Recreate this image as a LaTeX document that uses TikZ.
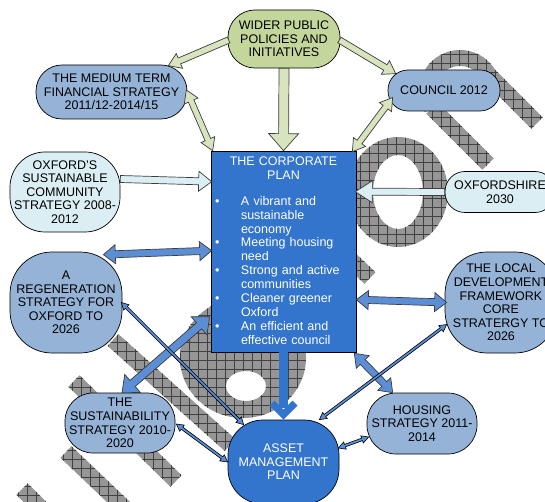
\documentclass[tikz,border=0pt]{standalone}
\usepackage{fontspec}
\setmainfont{Liberation Sans}
\usetikzlibrary{calc}
\definecolor{corpblue}{RGB}{51,116,204}
\definecolor{nodeblue}{RGB}{149,179,215}
\definecolor{lightcyan}{RGB}{218,238,243}
\definecolor{olivebox}{RGB}{195,214,155}
\definecolor{olivearrow}{RGB}{215,228,189}
\definecolor{arrowblue}{RGB}{92,142,213}
\definecolor{wmgray}{RGB}{150,150,150}
\definecolor{outline}{RGB}{60,60,60}

\newcommand{\wmfill}[1]{\begin{scope}[even odd rule]\clip #1; \fill[wmgray] (0,0) rectangle (545,502); \draw[black!75, line width=0.5pt, step=9pt] (0,502) grid (545,0);\end{scope}}
\newcommand{\wmbar}[2]{\wmfill{($#1!8pt!90:#2$) -- ($#2!8pt!-90:#1$) -- ($#2!8pt!90:#1$) -- ($#1!8pt!-90:#2$) -- cycle}}
\newcommand{\blkS}[6]{%
  \coordinate (hB) at ($(#3)!#6!(#2)$);
  \draw[#1] ($(#2)!#4!90:(#3)$) -- ($(hB)!#4!90:(#3)$) -- ($(hB)!#5!90:(#3)$) -- (#3) -- ($(hB)!#5!-90:(#3)$) -- ($(hB)!#4!-90:(#3)$) -- ($(#2)!#4!-90:(#3)$) -- cycle;}
\newcommand{\blkD}[6]{%
  \coordinate (hA) at ($(#2)!#6!(#3)$);
  \coordinate (hB) at ($(#3)!#6!(#2)$);
  \draw[#1] (#2) -- ($(hA)!#5!90:(#3)$) -- ($(hA)!#4!90:(#3)$) -- ($(hB)!#4!90:(#3)$) -- ($(hB)!#5!90:(#3)$) -- (#3) -- ($(hB)!#5!-90:(#3)$) -- ($(hB)!#4!-90:(#3)$) -- ($(hA)!#4!-90:(#3)$) -- ($(hA)!#5!-90:(#3)$) -- cycle;}
\newcommand{\cpitem}[1]{\par\noindent\hangindent=30pt\hangafter=1\makebox[30pt][l]{\hspace{4pt}\textbullet}#1\par}

\begin{document}
\begin{tikzpicture}[x=1pt,y=-1pt,
  box/.style={draw=black, line width=0.7pt, align=center, inner sep=0pt,
    font=\fontsize{12.5}{13.6}\selectfont},
  garrow/.style={draw=outline, line width=0.7pt, fill=olivearrow},
  carrow/.style={draw=outline, line width=0.7pt, fill=lightcyan},
  barrow/.style={draw=outline, line width=0.7pt, fill=arrowblue},
  tarrow/.style={draw=black, line width=0.6pt, fill=arrowblue}]
\useasboundingbox (0,0) rectangle (545,502);
\clip (0,0) rectangle (545,502);

% watermark
\wmfill{(398,192) ellipse (50pt and 55pt) (398,192) ellipse (25pt and 37pt)}
\wmfill{(243,358) ellipse (63pt and 60pt) (246,386) ellipse (20pt and 15pt)}
\wmbar{(432,108)}{(488,164)}
\wmbar{(486,72)}{(537,123)}
\begin{scope}
  \clip (420.7,114.9) -- (499.3,67.1) -- (473.3,24.4) -- (394.7,72.2) -- cycle;
  \wmfill{(460,91) circle (41pt) (460,91) circle (25pt)}
\end{scope}
\wmbar{(330,240)}{(370,278)}
\wmbar{(113,340)}{(230,445)}
\wmbar{(74,381)}{(176,481)}
\wmbar{(66,452)}{(150,532)}
\wmbar{(22,489)}{(60,527)}

% nodes
\node[box, fill=olivebox, minimum width=112pt, minimum height=58pt, rounded corners=27pt] (wider) at (284,39) {WIDER PUBLIC\\POLICIES AND\\INITIATIVES};
\node[box, fill=nodeblue, minimum width=151pt, minimum height=54pt, rounded corners=26pt] (medium) at (111.5,92) {THE MEDIUM TERM\\FINANCIAL STRATEGY\\2011/12-2014/15};
\node[box, fill=nodeblue, minimum width=112pt, minimum height=41pt, rounded corners=20pt] (council) at (444,90.5) {COUNCIL 2012};
\node[box, fill=lightcyan, minimum width=110pt, minimum height=80pt, rounded corners=35pt] (oxfords) at (65,192) {OXFORD’S\\SUSTAINABLE\\COMMUNITY\\STRATEGY 2008-\\2012};
\node[box, fill=lightcyan, minimum width=110pt, minimum height=41pt, rounded corners=20pt] (oxshire) at (500,192) {OXFORDSHIRE\\2030};
\node[box, fill=nodeblue, minimum width=112pt, minimum height=101pt, rounded corners=42pt] (regen) at (66,302.5) {A\\REGENERATION\\STRATEGY FOR\\OXFORD TO\\2026};
\node[box, fill=nodeblue, minimum width=112pt, minimum height=101pt, rounded corners=42pt] (local) at (501,302.5) {THE LOCAL\\DEVELOPMENT\\FRAMEWORK\\CORE\\STRATERGY TO\\2026};
\node[draw=black, line width=0.7pt, fill=corpblue, minimum width=145pt, minimum height=201pt, inner sep=0pt] (corp) at (283.5,251.5) {};
\node[anchor=north, text=white, text width=145pt, inner sep=0pt, font=\fontsize{12.5}{13.9}\selectfont] (corptext) at (283.5,156.5) {%
  {\centering THE CORPORATE\\PLAN\par}\vspace{12pt}%
  \cpitem{A vibrant and\newline sustainable\newline economy}%
  \cpitem{Meeting housing\newline need}%
  \cpitem{Strong and active\newline communities}%
  \cpitem{Cleaner greener\newline Oxford}%
  \cpitem{An efficient and\newline effective council}};
\node[box, fill=nodeblue, minimum width=110pt, minimum height=60pt, rounded corners=28pt] (sustain) at (120,423) {THE\\SUSTAINABILITY\\STRATEGY 2010-\\2020};
\node[box, fill=nodeblue, minimum width=110pt, minimum height=61pt, rounded corners=29pt] (housing) at (422,423.5) {HOUSING\\STRATEGY 2011-\\2014};
\node[box, fill=corpblue, text=white, minimum width=111pt, minimum height=84pt, rounded corners=35pt] (asset) at (283.5,462) {ASSET\\MANAGEMENT\\PLAN};

% connector end points
\coordinate (a1) at ($(wider.west)+(1,1)$);
\coordinate (b1) at ($(medium.north east)+(-19,1)$);
\coordinate (a2) at ($(wider.east)+(-1,1)$);
\coordinate (b2) at ($(council.north west)+(8,4)$);
\coordinate (a4) at ($(medium.east)+(-1,-2)$);
\coordinate (b4) at ($(corp.north west)+(2,0)$);
\coordinate (a5) at ($(council.west)+(5,7)$);
\coordinate (b5) at ($(corp.north east)+(-4,1)$);
\coordinate (a6) at ($(oxfords.east)+(0,-13)$);
\coordinate (b6) at ($(corp.north west)+(1,31)$);
\coordinate (b7) at ($(corp.north east)+(-1,41)$);
\coordinate (a8) at ($(regen.north east)+(-19,3)$);
\coordinate (b8) at ($(corp.north west)+(1,100)$);
\coordinate (a9) at ($(corp.north east)+(0,149)$);
\coordinate (b9) at ($(local.west)+(2,0)$);
\coordinate (a10) at ($(corp.north west)+(-1,166)$);
\coordinate (b10) at ($(sustain.north)+(2,0)$);
\coordinate (a11) at ($(regen.east)+(-1,0)$);
\coordinate (b11) at ($(asset.north west)+(16,5)$);
\coordinate (a12) at ($(sustain.east)+(1,1)$);
\coordinate (a13) at ($(local.west)+(2,22)$);
\coordinate (b13) at ($(asset.north east)+(-20,0)$);
\coordinate (a14) at ($(corp.south east)+(-2,1)$);
\coordinate (b14) at ($(housing.north west)+(26,0)$);
\coordinate (a15) at ($(asset.east)+(-1,-14)$);
\coordinate (b15) at ($(housing.west)+(2,13.5)$);

% connectors
\blkS{garrow}{a1}{b1}{3.2pt}{8pt}{12pt}
\blkS{garrow}{a2}{b2}{3.2pt}{8pt}{12pt}
\blkS{garrow}{wider.south}{corp.north}{5pt}{15pt}{17pt}
\blkD{garrow}{a4}{b4}{3pt}{7.5pt}{12pt}
\blkD{garrow}{a5}{b5}{3pt}{7.5pt}{12pt}
\blkS{carrow}{a6}{b6}{3.5pt}{10pt}{13pt}
\blkS{carrow}{oxshire.west}{b7}{3.5pt}{11pt}{17pt}
\blkD{barrow}{a8}{b8}{3.5pt}{9.5pt}{12pt}
\blkD{barrow}{a9}{b9}{3.5pt}{9.5pt}{12pt}
\blkD{barrow}{a10}{b10}{4pt}{12pt}{14pt}
\blkD{barrow}{a14}{b14}{3.5pt}{9pt}{12pt}
\blkD{tarrow}{a11}{b11}{1.3pt}{3.8pt}{7pt}
\blkD{tarrow}{a12}{asset.west}{1.3pt}{3.8pt}{7pt}
\blkD{tarrow}{a13}{b13}{1.3pt}{3.8pt}{7pt}
\blkD{tarrow}{a15}{b15}{1.3pt}{3.8pt}{7pt}
\draw[corpblue, line width=9pt] (corp.south) -- ($(asset.north)+(0,-12)$);
\fill[corpblue] (asset.north) -- ++(-14,-14) -- ++(5,-5) -- ++(9,9) -- ++(9,-9) -- ++(5,5) -- cycle;
\end{tikzpicture}
\end{document}
